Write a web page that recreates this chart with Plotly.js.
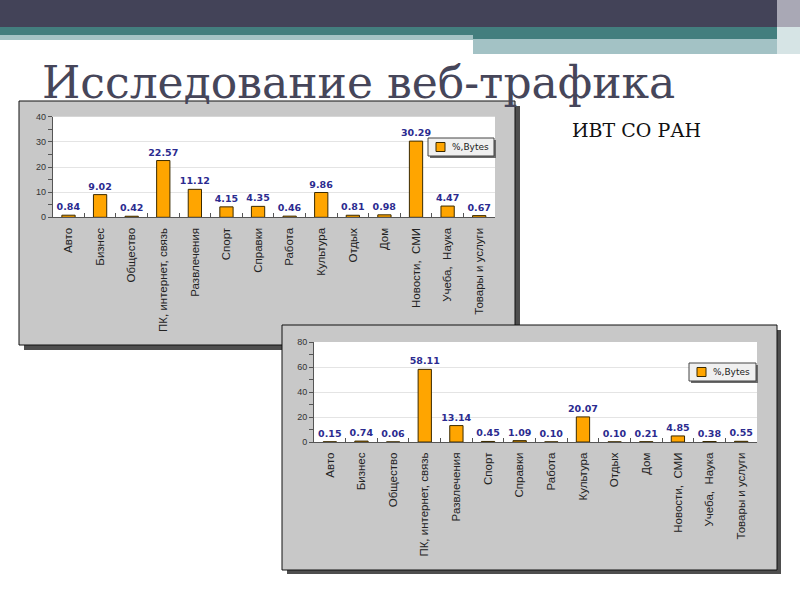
<!DOCTYPE html>
<html>
<head>
<meta charset="utf-8">
<script src="https://cdn.plot.ly/plotly-3.0.1.min.js"></script>
<style>html,body{margin:0;padding:0;background:#fff;}#chart{width:800px;height:600px;}</style>
</head>
<body>
<div id="chart"></div>
<script>
// ---- data ----
const categories = ["Авто", "Бизнес", "Общество", "ПК, интернет, связь", "Развлечения", "Спорт", "Справки", "Работа", "Культура", "Отдых", "Дом", "Новости,\u00a0 СМИ", "Учеба,\u00a0 Наука", "Товары и услуги"];
const bytesChart1 = [0.84, 9.02, 0.42, 22.57, 11.12, 4.15, 4.35, 0.46, 9.86, 0.81, 0.98, 30.29, 4.47, 0.67];
const bytesChart2 = [0.15, 0.74, 0.06, 58.11, 13.14, 0.45, 1.09, 0.10, 20.07, 0.10, 0.21, 4.85, 0.38, 0.55];
const seriesName = "%,Bytes";
const slideTitle = "Исследование веб-трафика";
const slideSubtitle = "ИВТ СО РАН";

// ---- helpers (pixel -> paper) ----
const W = 800, H = 600;
const px = x => x / W;
const py = y => 1 - y / H;
function rect(x0, y0, x1, y1, fill, line, layer) {
  return {type: 'rect', xref: 'paper', yref: 'paper', layer: layer || 'below',
    x0: px(x0), x1: px(x1), y0: py(y1), y1: py(y0),
    fillcolor: fill, line: line ? {color: line, width: 1} : {width: 0}};
}

const barColor = '#ffa500';
const labelFont = {family: 'Verdana, "DejaVu Sans", sans-serif', size: 9.5, color: '#2b2b8f', weight: 'bold'};

function barTrace(vals, xa, ya) {
  return {
    type: 'bar', x: categories, y: vals, name: seriesName,
    xaxis: xa, yaxis: ya, showlegend: false,
    width: 0.42,
    marker: {color: barColor, line: {color: '#3a2a00', width: 1}},
    texttemplate: '%{y:.2f}', textposition: 'outside', cliponaxis: false,
    constraintext: 'none', textfont: labelFont, hoverinfo: 'x+y'
  };
}

const data = [
  barTrace(bytesChart1, 'x', 'y'),
  barTrace(bytesChart2, 'x2', 'y2')
];

const xCommon = {
  type: 'category', tickangle: -90, ticks: 'inside', tickson: 'boundaries',
  ticklen: 4, tickcolor: '#555', showline: true, linecolor: '#555', linewidth: 1,
  showgrid: false, zeroline: false, range: [-0.5, categories.length - 0.5],
  tickfont: {family: '"Liberation Sans", Arial, sans-serif', size: 11.5, color: '#222'},
  ticklabelstandoff: 5, fixedrange: true
};
const yCommon = {
  ticks: 'outside', ticklen: 4, tickcolor: '#555', showline: true, linecolor: '#555',
  linewidth: 1, showgrid: true, gridcolor: '#e4e4e4', zeroline: false,
  tickfont: {family: '"Liberation Sans", Arial, sans-serif', size: 9, color: '#333'},
  fixedrange: true
};

// legend boxes (drawn as decorations): [box x0, y0, x1, y1]
function legendParts(x0, y0, x1, y1) {
  const cy = (y0 + y1) / 2;
  return {
    shapes: [
      rect(x0 + 2, y0 + 2, x1 + 2, y1 + 2, '#6a6a6a', null, 'above'),
      rect(x0, y0, x1, y1, '#f0f0f0', '#444', 'above'),
      rect(x0 + 8, cy - 4.5, x0 + 17, cy + 4.5, barColor, '#3a2a00', 'above')
    ],
    annotation: {text: seriesName, xref: 'paper', yref: 'paper', x: px(x0 + 22), y: py(cy),
      xanchor: 'left', yanchor: 'middle', showarrow: false,
      font: {family: '"DejaVu Sans", sans-serif', size: 9, color: '#222'}}
  };
}
const leg1 = legendParts(428, 138, 494, 156);
const leg2 = legendParts(689, 363, 756, 381);

const layout = {
  width: W, height: H, autosize: false,
  margin: {l: 0, r: 0, t: 0, b: 0, pad: 0},
  paper_bgcolor: '#ffffff', plot_bgcolor: 'rgba(0,0,0,0)',
  showlegend: false,
  xaxis: Object.assign({}, xCommon, {domain: [px(52.7), px(495)], anchor: 'y'}),
  yaxis: Object.assign({}, yCommon, {domain: [py(217.3), py(116.7)], anchor: 'x', range: [0, 40], dtick: 10,
    minor: {dtick: 5, ticks: 'outside', ticklen: 4, tickcolor: '#555', showgrid: false}}),
  xaxis2: Object.assign({}, xCommon, {domain: [px(314), px(757)], anchor: 'y2'}),
  yaxis2: Object.assign({}, yCommon, {domain: [py(442), py(342)], anchor: 'x2', range: [0, 80], dtick: 20,
    minor: {dtick: 10, ticks: 'outside', ticklen: 4, tickcolor: '#555', showgrid: false}}),
  shapes: [
    // slide header
    rect(0, 0, 800, 27, '#434358'),
    rect(0, 27, 800, 35, '#437e7e'),
    rect(0, 35, 473, 40, '#a5c3c5'),
    rect(473, 35, 777, 39, '#437e7e'),
    rect(473, 39, 777, 54, '#a3c2c5'),
    rect(777, 0, 800, 27, '#a9a8b5'),
    rect(777, 27, 800, 54, '#d6e4e5'),
    // chart 1 panel
    rect(24, 106, 520, 350, '#4e4e4e'),
    rect(19, 101, 515, 345, '#c8c8c8', '#111'),
    rect(52.7, 116.7, 495, 217.3, '#ffffff'),
    // chart 2 panel
    rect(287, 330, 781, 574, '#4e4e4e'),
    rect(282, 325, 777, 570, '#c8c8c8', '#111'),
    rect(314, 342, 757, 442, '#ffffff')
  ].concat(leg1.shapes, leg2.shapes),
  annotations: [
    {text: slideTitle, xref: 'paper', yref: 'paper', x: px(40), y: py(82), xanchor: 'left', yanchor: 'middle',
      showarrow: false, font: {family: '"DejaVu Serif", serif', size: 44, color: '#46465a'}},
    {text: slideSubtitle, xref: 'paper', yref: 'paper', x: px(570), y: py(130), xanchor: 'left', yanchor: 'middle',
      showarrow: false, font: {family: '"DejaVu Serif", serif', size: 19, color: '#111'}},
    leg1.annotation, leg2.annotation
  ]
};

Plotly.newPlot('chart', data, layout, {staticPlot: true, displayModeBar: false});
</script>
</body>
</html>
